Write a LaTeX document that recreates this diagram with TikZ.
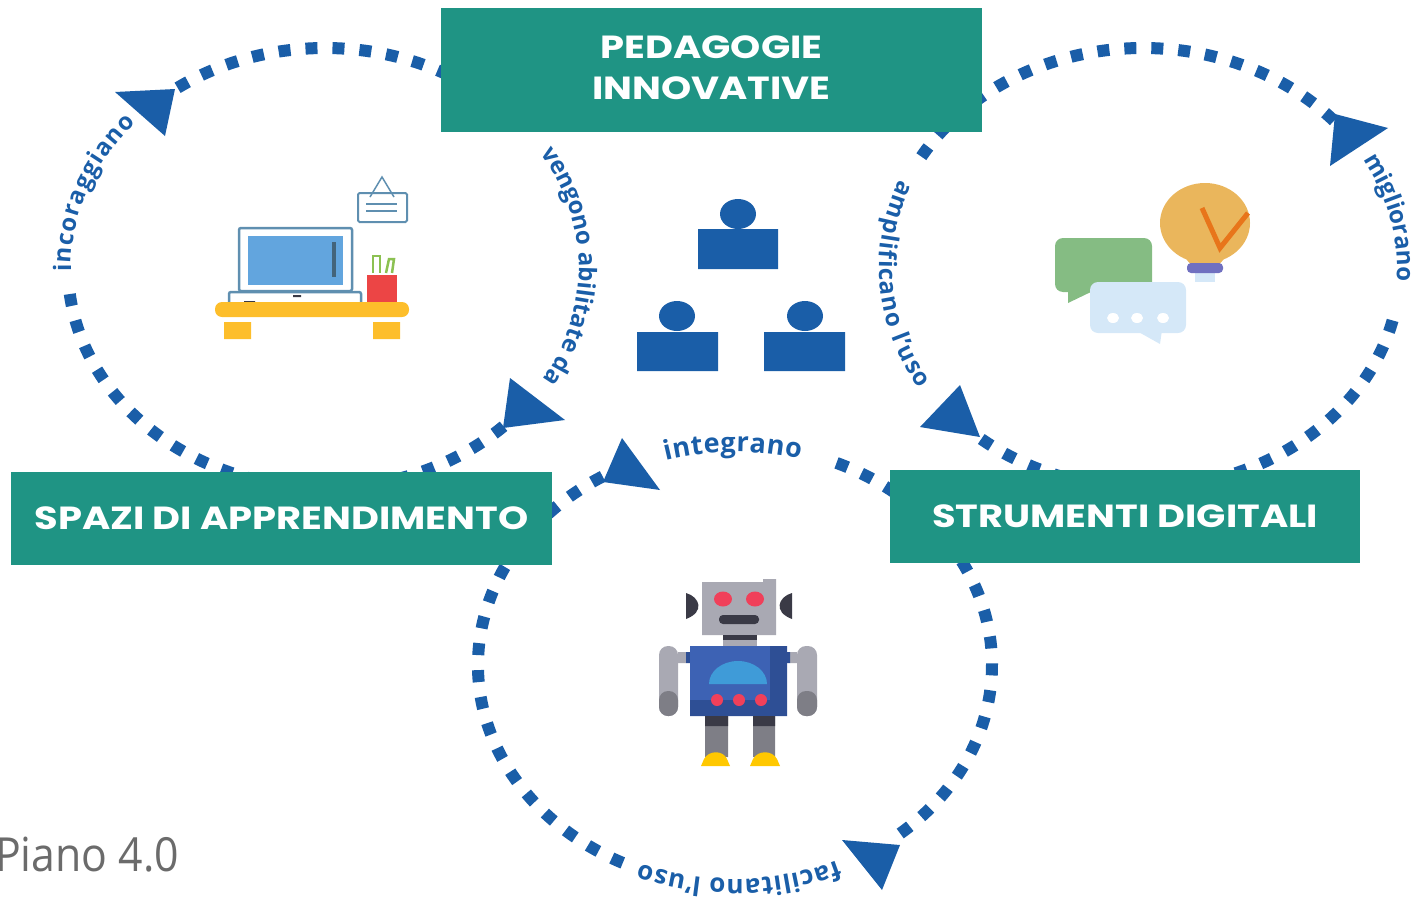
\documentclass[tikz,border=0pt]{standalone}
\usepackage{fontspec}
\usetikzlibrary{calc,positioning,decorations.text}
\setmainfont{Open Sans}
\newfontfamily\boxfont[FakeStretch=1.2]{Poppins}
\newfontfamily\pianofont[FakeStretch=.91]{Open Sans}
\definecolor{boxteal}{HTML}{1F9484}
\definecolor{ringblue}{HTML}{1A5EA8}
\definecolor{deskyellow}{HTML}{FDBE2B}
\definecolor{screenline}{HTML}{5F8FB0}
\definecolor{screenblue}{HTML}{62A5DE}
\definecolor{cupred}{HTML}{EC4545}
\definecolor{clipgreen}{HTML}{8CC152}
\definecolor{bulbgold}{HTML}{EAB65C}
\definecolor{tickorange}{HTML}{E8751A}
\definecolor{bulbbase}{HTML}{7070C0}
\definecolor{bubblegreen}{HTML}{85BC83}
\definecolor{robotgrey}{HTML}{A9A9B3}
\definecolor{robotdark}{HTML}{7E7E86}
\definecolor{robotink}{HTML}{3A3A46}
\definecolor{robotred}{HTML}{F0405A}
\definecolor{robotdome}{HTML}{3F9BD8}
\definecolor{robotfoot}{HTML}{FFC800}
\definecolor{bodyblue}{HTML}{3D62B4}
\definecolor{bodydark}{HTML}{2E4F95}
\definecolor{paleblue}{HTML}{D5E8F8}
% one dotted piece of a ring, and one piece that carries a word
\newcommand{\ringdots}[3]{\draw[dotring] ($(#1)+(#2:257 and 220)$) arc[start angle=#2,end angle=#3,x radius=257,y radius=220];}
\newcommand{\ringword}[6]{\path[postaction={decorate,decoration={text along path,text align=fit to path,raise=#5,text={|\fontsize{#4}{#4}\selectfont\bfseries\color{ringblue}|#6}}}] ($(#1)+(#2:257 and 220)$) arc[start angle=#2,end angle=#3,x radius=257,y radius=220];}
\begin{document}
\begin{tikzpicture}[x=1pt,y=1pt,
dotring/.style={draw=ringblue,line width=12pt,dash pattern=on 12pt off 15pt},
headtip/.style={fill=ringblue},
tealbox/.style={fill=boxteal,text=white,inner sep=0pt,outer sep=0pt,align=center,font=\boxfont\bfseries\fontsize{32}{42}\selectfont}
]
\useasboundingbox (0,0) rectangle (1416,-897);
\coordinate (ringA) at (325,-268);
\coordinate (ringB) at (1143,-268);
\coordinate (ringC) at (735,-665);

% left ring
\ringdots{ringA}{255}{184}
\ringword{ringA}{181}{138}{24}{-3pt}{incoraggiano}
\ringdots{ringA}{125}{50}
\ringword{ringA}{32}{-31}{24}{-3pt}{vengono abilitate da}
\ringdots{ringA}{-46}{-75}
\fill[headtip] (115,-92) -- (175,-89) -- (165,-136) -- cycle;
\fill[headtip] (510,-378) -- (565,-420) -- (503,-428) -- cycle;
% right ring
\ringdots{ringB}{-75}{-11}
\ringword{ringB}{30}{-3}{24}{-3pt}{migliorano}
\ringdots{ringB}{42}{135}
\ringdots{ringB}{140}{150}
\ringword{ringB}{157}{212}{24}{-7pt}{amplificano l'uso}
\ringdots{ringB}{231}{258}
\fill[headtip] (1388,-128) -- (1330,-166) -- (1335,-114) -- cycle;
\fill[headtip] (920,-427) -- (960,-385) -- (980,-437) -- cycle;
% bottom ring
\ringdots{ringC}{121}{245}
\ringword{ringC}{-66}{-112}{26}{-6pt}{facilitano l'uso}
\ringdots{ringC}{-50}{69}
\ringword{ringC}{106}{75}{27}{-7pt}{integrano}
\fill[headtip] (622,-438) -- (660,-490) -- (603,-482) -- cycle;
\fill[headtip] (842,-840) -- (882,-890) -- (900,-845) -- cycle;

\node[tealbox,minimum width=541pt,minimum height=124pt] (pedagogie) at (711.5,-70) {PEDAGOGIE\\[-1pt]INNOVATIVE\\[-37pt]\mbox{}};
\node[tealbox,minimum width=541pt,minimum height=93pt] (spazi) [below left=340pt and -111pt of pedagogie.south west] {SPAZI DI APPRENDIMENTO};
\node[tealbox,minimum width=470pt,minimum height=93pt] (strumenti) [below right=338pt and -92pt of pedagogie.south east] {STRUMENTI DIGITALI};
\node[anchor=base west,inner sep=0pt,text=black!58,font=\pianofont\fontsize{47}{47}\selectfont] (piano) at (-5,-871) {Piano 4.0};

% desk
\fill[deskyellow] (224,-322) rectangle (251,-339) (373,-322) rectangle (400,-339);
\draw[screenline,line width=2.5pt,fill=white,rounded corners=2pt] (229,-303) -- (229,-292) -- (361,-292) -- (361,-303);
\draw[screenline,line width=2.5pt,fill=white,rounded corners=2pt] (239,-291) rectangle (352,-228);
\fill[screenblue] (248,-236) rectangle (343,-285);
\fill[screenline!70!black] (332,-242) rectangle (336,-277);
\fill[robotink] (244,-301) rectangle (255,-303) (293,-295) rectangle (301,-297);
\fill[deskyellow,rounded corners=7pt] (215,-302) rectangle (409,-317);
\fill[cupred] (367,-275) rectangle (397,-302);
\draw[clipgreen,line width=2.5pt] (373,-273) -- (373,-256) -- (380,-256) -- (380,-273);
\draw[clipgreen,line width=2.5pt] (386,-273) -- (389,-259) -- (394,-259) -- (392,-273);
\draw[screenline,line width=2pt,fill=white,rounded corners=1.5pt] (358,-193) rectangle (407,-222);
\draw[screenline,line width=1.5pt] (370,-197) -- (382,-177) -- (394,-197);
\draw[screenline,line width=1.5pt] (366,-204) -- (397,-204) (366,-211) -- (397,-211);

% people
\fill[ringblue] (738,-214) ellipse [x radius=18,y radius=15] (698,-229) rectangle (778,-269);
\fill[ringblue] (677,-316) ellipse [x radius=18,y radius=15] (637,-332) rectangle (718,-371);
\fill[ringblue] (805,-316) ellipse [x radius=18,y radius=15] (764,-332) rectangle (845,-371);

% bulb and speech bubbles
\fill[paleblue] (1195,-270) rectangle (1215,-282);
\fill[bulbgold] (1205,-223) ellipse [x radius=45,y radius=40] (1180,-252) -- (1193,-267) -- (1217,-267) -- (1230,-252) -- cycle;
\draw[tickorange,line width=5pt] (1202,-208) -- (1220,-248) -- (1248,-213);
\fill[bulbbase,rounded corners=4pt] (1187,-263) rectangle (1223,-273);
\fill[bubblegreen,rounded corners=8pt] (1055,-238) rectangle (1152,-292);
\fill[bubblegreen] (1068,-285) -- (1068,-303) -- (1095,-290) -- cycle;
\fill[paleblue,rounded corners=8pt] (1090,-282) rectangle (1186,-333);
\fill[paleblue] (1135,-330) -- (1160,-344) -- (1162,-330) -- cycle;
\fill[white] (1113,-318) ellipse [x radius=6,y radius=5] (1137,-318) ellipse [x radius=6,y radius=5] (1163,-318) ellipse [x radius=6,y radius=5];

% robot
\fill[robotink] (686,-593) .. controls (700,-597) and (705,-612) .. (686,-619) -- cycle;
\fill[robotink] (792,-593) .. controls (778,-597) and (773,-612) .. (792,-619) -- cycle;
\fill[robotgrey] (702,-582) rectangle (776,-635) (763,-579) rectangle (776,-582);
\fill[robotred] (723,-599) ellipse [x radius=9,y radius=7.5] (755,-599) ellipse [x radius=9,y radius=7.5];
\fill[robotink,rounded corners=4pt] (719,-615) rectangle (759,-624);
\fill[robotgrey] (723,-635) rectangle (757,-646);
\fill[robotink] (723,-635) rectangle (757,-640);
\fill[robotgrey] (678,-652) rectangle (686,-663) (790,-652) rectangle (797,-663);
\fill[bodydark] (686,-652) rectangle (690,-663) (787,-652) rectangle (790,-663);
\fill[bodyblue] (690,-646) rectangle (787,-716);
\fill[bodydark] (770,-646) rectangle (787,-716) (690,-700) rectangle (787,-716);
\fill[robotdome] (709,-684) arc[start angle=180,end angle=0,x radius=29,y radius=23] -- cycle;
\fill[robotred] (717,-700) circle (6) (739,-700) circle (6) (761,-700) circle (6);
\fill[robotgrey,rounded corners=9pt] (659,-646) rectangle (678,-716) (797,-646) rectangle (817,-716);
\fill[robotdark,rounded corners=9pt] (659,-691) rectangle (678,-716) (797,-691) rectangle (817,-716);
\fill[robotdark] (705,-716) rectangle (728,-757) (753,-716) rectangle (775,-757);
\fill[robotink] (705,-716) rectangle (728,-726) (753,-716) rectangle (775,-726);
\fill[robotfoot] (701,-766) -- (704,-759) .. controls (709,-750) and (723,-750) .. (727,-759) -- (730,-766) -- cycle;
\fill[robotfoot] (750,-766) -- (753,-759) .. controls (758,-750) and (772,-750) .. (777,-759) -- (780,-766) -- cycle;
\end{tikzpicture}
\end{document}
